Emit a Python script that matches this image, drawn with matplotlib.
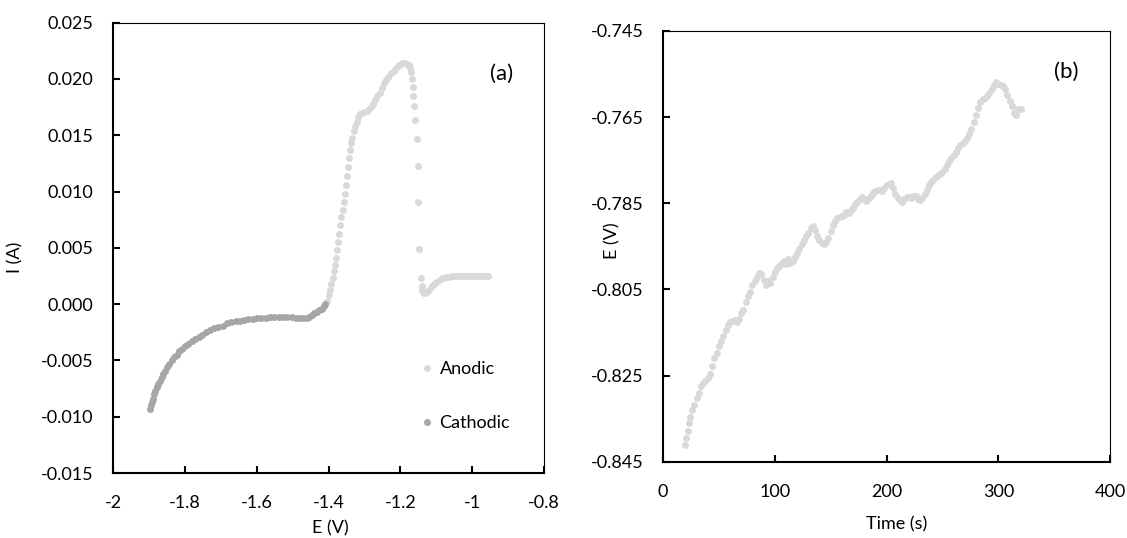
import matplotlib
matplotlib.use("Agg")
import matplotlib.pyplot as plt

plt.rcParams["font.family"] = ["Lato", "DejaVu Sans"]

# (a) polarization curve
cath_E = [-1.897, -1.894, -1.891, -1.888, -1.885, -1.882, -1.878, -1.874, -1.870, -1.865,
          -1.860, -1.855, -1.849, -1.843, -1.836, -1.829, -1.822, -1.815, -1.807, -1.799,
          -1.790, -1.781, -1.772, -1.762, -1.752, -1.741, -1.730, -1.719, -1.707, -1.695,
          -1.683, -1.671, -1.659, -1.647, -1.635, -1.623, -1.611, -1.599, -1.587, -1.575,
          -1.563, -1.551, -1.539, -1.527, -1.515, -1.503, -1.491, -1.480, -1.470, -1.461,
          -1.453, -1.446, -1.440, -1.433, -1.426, -1.419, -1.413, -1.409]
cath_I = [-0.0093, -0.0090, -0.0087, -0.0084, -0.0080, -0.0077, -0.0074, -0.0071, -0.0068, -0.0065,
          -0.0062, -0.0059, -0.0056, -0.0053, -0.0050, -0.0047, -0.0045, -0.0042, -0.0040, -0.0037,
          -0.0035, -0.0033, -0.0031, -0.0029, -0.0027, -0.0025, -0.0023, -0.0021, -0.0020, -0.0019,
          -0.0017, -0.0016, -0.0015, -0.0015, -0.0014, -0.0013, -0.0013, -0.0012, -0.0012, -0.0012,
          -0.0011, -0.0011, -0.0011, -0.0011, -0.0011, -0.0011, -0.0012, -0.0012, -0.0012, -0.0012,
          -0.0011, -0.0010, -0.0008, -0.0007, -0.0005, -0.0004, -0.0002, -0.0000]

anod_E = [-1.405, -1.400, -1.396, -1.392, -1.388, -1.385, -1.382, -1.379, -1.376, -1.373,
          -1.370, -1.367, -1.364, -1.361, -1.358, -1.355, -1.352, -1.349, -1.346, -1.343,
          -1.340, -1.337, -1.334, -1.330, -1.326, -1.322, -1.318, -1.313, -1.307, -1.300,
          -1.294, -1.288, -1.282, -1.276, -1.270, -1.264, -1.258, -1.252, -1.246, -1.240,
          -1.233, -1.226, -1.219, -1.212, -1.205, -1.199, -1.193, -1.187, -1.182, -1.177,
          -1.173, -1.170, -1.168, -1.166, -1.164, -1.161, -1.159, -1.155, -1.151, -1.150,
          -1.147, -1.143, -1.141, -1.140, -1.138, -1.134, -1.130, -1.125, -1.120, -1.115,
          -1.109, -1.103, -1.096, -1.088, -1.080, -1.072, -1.064, -1.056, -1.048, -1.040,
          -1.032, -1.024, -1.016, -1.008, -1.000, -0.992, -0.984, -0.976, -0.968, -0.960, -0.955]
anod_I = [0.0003, 0.0008, 0.0013, 0.0018, 0.0023, 0.0029, 0.0035, 0.0041, 0.0048, 0.0055,
          0.0062, 0.0070, 0.0077, 0.0084, 0.0091, 0.0098, 0.0106, 0.0114, 0.0122, 0.0130,
          0.0137, 0.0143, 0.0148, 0.0154, 0.0158, 0.0162, 0.0166, 0.0169, 0.0170, 0.0171,
          0.0172, 0.0173, 0.0175, 0.0178, 0.0181, 0.0185, 0.0188, 0.0192, 0.0196, 0.0199,
          0.0202, 0.0205, 0.0207, 0.0210, 0.0212, 0.0213, 0.0214, 0.0214, 0.0213, 0.0212,
          0.0210, 0.0206, 0.0200, 0.0193, 0.0185, 0.0176, 0.0164, 0.0147, 0.0123, 0.0091,
          0.0049, 0.0023, 0.0016, 0.0013, 0.0011, 0.0010, 0.0010, 0.0011, 0.0013, 0.0015,
          0.0017, 0.0019, 0.0021, 0.0022, 0.0023, 0.0024, 0.0024, 0.0025, 0.0025, 0.0025,
          0.0025, 0.0025, 0.0025, 0.0025, 0.0025, 0.0025, 0.0025, 0.0025, 0.0025, 0.0025, 0.0025]

# (b) open-circuit potential vs time
time_s = [20, 21, 22, 23, 24, 26, 28, 30, 32, 34, 36, 38, 40, 42, 44, 46, 48, 50, 52, 54,
          56, 58, 60, 62, 64, 66, 68, 70, 72, 74, 76, 78, 80, 82, 84, 86, 88, 90, 92, 94,
          96, 98, 100, 102, 104, 106, 108, 110, 112, 114, 116, 118, 120, 122, 124, 126, 128, 130, 132, 134,
          136, 138, 140, 142, 144, 146, 148, 150, 152, 154, 156, 158, 160, 162, 164, 166, 168, 170, 172, 174,
          176, 178, 180, 182, 184, 186, 188, 190, 192, 194, 196, 198, 200, 202, 204, 206, 208, 210, 212, 214,
          216, 218, 220, 222, 224, 226, 228, 230, 232, 234, 236, 238, 240, 242, 244, 246, 248, 250, 252, 254,
          256, 258, 260, 262, 264, 266, 268, 270, 272, 274, 276, 278, 280, 282, 284, 286, 288, 290, 292, 294,
          296, 298, 300, 302, 304, 306, 308, 310, 312, 314, 316, 318, 320]
ocp_E = [-0.8410, -0.8395, -0.8378, -0.8360, -0.8345, -0.8330, -0.8318, -0.8302, -0.8290, -0.8275,
         -0.8268, -0.8262, -0.8255, -0.8245, -0.8228, -0.8210, -0.8198, -0.8182, -0.8170, -0.8158,
         -0.8145, -0.8132, -0.8125, -0.8122, -0.8120, -0.8125, -0.8118, -0.8105, -0.8098, -0.8080,
         -0.8065, -0.8055, -0.8040, -0.8030, -0.8020, -0.8012, -0.8015, -0.8028, -0.8040, -0.8030,
         -0.8035, -0.8022, -0.8010, -0.8000, -0.7995, -0.7990, -0.7985, -0.7990, -0.7980, -0.7988,
         -0.7983, -0.7975, -0.7965, -0.7955, -0.7945, -0.7935, -0.7925, -0.7918, -0.7908, -0.7902,
         -0.7912, -0.7925, -0.7935, -0.7942, -0.7945, -0.7940, -0.7930, -0.7915, -0.7900, -0.7890,
         -0.7885, -0.7882, -0.7880, -0.7876, -0.7870, -0.7872, -0.7866, -0.7860, -0.7852, -0.7848,
         -0.7840, -0.7836, -0.7840, -0.7845, -0.7838, -0.7832, -0.7826, -0.7822, -0.7818, -0.7820,
         -0.7822, -0.7815, -0.7808, -0.7805, -0.7803, -0.7815, -0.7828, -0.7838, -0.7843, -0.7846,
         -0.7840, -0.7835, -0.7836, -0.7838, -0.7834, -0.7832, -0.7840, -0.7842, -0.7838, -0.7828,
         -0.7818, -0.7808, -0.7800, -0.7795, -0.7790, -0.7785, -0.7782, -0.7778, -0.7770, -0.7762,
         -0.7752, -0.7745, -0.7738, -0.7730, -0.7722, -0.7715, -0.7710, -0.7705, -0.7698, -0.7690,
         -0.7678, -0.7662, -0.7645, -0.7628, -0.7615, -0.7608, -0.7605, -0.7600, -0.7595, -0.7585,
         -0.7575, -0.7568, -0.7572, -0.7575, -0.7578, -0.7585, -0.7598, -0.7612, -0.7625, -0.7640,
         -0.7645, -0.7632, -0.7630]

a_xticks = [-2, -1.8, -1.6, -1.4, -1.2, -1, -0.8]
a_xlabels = ["-2", "-1.8", "-1.6", "-1.4", "-1.2", "-1", "-0.8"]
a_yticks = [-0.015, -0.010, -0.005, 0.0, 0.005, 0.010, 0.015, 0.020, 0.025]
b_xticks = [0, 100, 200, 300, 400]
b_yticks = [-0.845, -0.825, -0.805, -0.785, -0.765, -0.745]

ANOD = "#d9d9d9"
CATH = "#a6a6a6"
FS = 13
MS = 5.0

fig = plt.figure(figsize=(11.27, 5.38), dpi=100)
ax1 = fig.add_axes([0.1003, 0.1208, 0.3824, 0.8370])
ax2 = fig.add_axes([0.5883, 0.1415, 0.3967, 0.8010])


def style(ax):
    for side in ("left", "bottom"):
        ax.spines[side].set_linewidth(1.5)
    for side in ("top", "right"):
        ax.spines[side].set_linewidth(0.8)
    ax.tick_params(direction="in", length=5, width=1.5, labelsize=FS)
    ax.tick_params(axis="x", pad=16)
    ax.tick_params(axis="y", pad=14)


ax1.plot(anod_E, anod_I, "o", ms=MS, color=ANOD, mec="none", label="Anodic")
ax1.plot(cath_E, cath_I, "o", ms=MS, color=CATH, mec="none", label="Cathodic")
ax1.set_xlim(-2, -0.8)
ax1.set_ylim(-0.015, 0.025)
ax1.set_xticks(a_xticks)
ax1.set_xticklabels(a_xlabels)
ax1.set_yticks(a_yticks)
ax1.set_yticklabels([f"{v:.3f}" for v in a_yticks])
ax1.set_xlabel("E (V)", fontsize=FS, va="center")
ax1.xaxis.set_label_coords(0.503, -0.122)
ax1.set_ylabel("I (A)", fontsize=FS, va="center")
ax1.yaxis.set_label_coords(-0.227, 0.478)
ax1.text(0.9026, 0.887, "(a)", transform=ax1.transAxes, fontsize=16, ha="center", va="center")
ax1.legend(loc="center left", bbox_to_anchor=(0.7157, 0.171), frameon=False, fontsize=FS,
           handlelength=0.6, handletextpad=0.4, labelspacing=2.1, borderpad=0, borderaxespad=0)
style(ax1)

ax2.plot(time_s, ocp_E, "o", ms=MS, color=ANOD, mec="none")
ax2.set_xlim(0, 400)
ax2.set_ylim(-0.845, -0.745)
ax2.set_xticks(b_xticks)
ax2.set_yticks(b_yticks)
ax2.set_yticklabels([f"{v:.3f}" for v in b_yticks])
ax2.set_xlabel("Time (s)", fontsize=FS, va="center")
ax2.xaxis.set_label_coords(0.523, -0.144)
ax2.set_ylabel("E (V)", fontsize=FS, va="center")
ax2.yaxis.set_label_coords(-0.114, 0.513)
ax2.text(0.903, 0.906, "(b)", transform=ax2.transAxes, fontsize=16, ha="center", va="center")
style(ax2)

fig.savefig("out.png", dpi=100)
